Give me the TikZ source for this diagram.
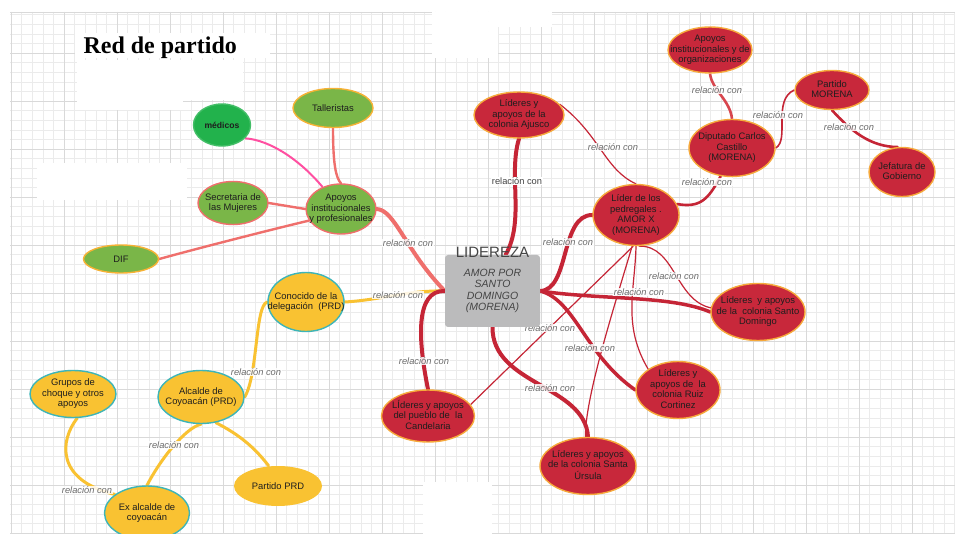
\documentclass[tikz,border=0pt]{standalone}
\usepackage{fontspec}
\setmainfont{Liberation Sans}
\newfontfamily\titleserif{Liberation Serif}
\usetikzlibrary{shapes.geometric, positioning}
\usepackage{xcolor}
\definecolor{morenared}{HTML}{C8283B}
\definecolor{rimorange}{HTML}{F6A93B}
\definecolor{linkred}{HTML}{C52536}
\definecolor{leafgreen}{HTML}{7AB648}
\definecolor{medgreen}{HTML}{22B24C}
\definecolor{salmon}{HTML}{EF6F6C}
\definecolor{hotpink}{HTML}{FF4FA1}
\definecolor{prdyellow}{HTML}{F9C232}
\definecolor{rimteal}{HTML}{3DB5B8}
\definecolor{boxgray}{HTML}{BBBBBC}
\definecolor{inkdark}{HTML}{1E1E1E}
\definecolor{inkgray}{HTML}{444444}
\definecolor{lblgray}{HTML}{6B6B6B}
\definecolor{gridminor}{HTML}{EBEBEB}
\definecolor{gridmajor}{HTML}{D9D9D9}
\pgfdeclarelayer{paper}
\pgfdeclarelayer{links}
\pgfsetlayers{paper,links,main}
\newcommand{\bubbletext}[1]{\makebox[0pt]{\smash{\raisebox{-0.27em}{\begin{tabular}{@{}c@{}}#1\end{tabular}}}}}

\begin{document}
\begin{tikzpicture}[x=1pt, y=-1pt,
    every node/.style={font=\fontsize{9.4}{10.5}\selectfont, text=inkdark},
    bubble/.style={ellipse, inner sep=0pt, line width=1.4pt},
    rednode/.style={bubble, fill=morenared, draw=rimorange},
    greennode/.style={bubble, fill=leafgreen},
    yellownode/.style={bubble, fill=prdyellow, draw=rimteal},
    rel/.style={font=\fontsize{9.3}{10}\selectfont\itshape, text=lblgray, fill=white, fill opacity=0.85, text opacity=1, inner sep=0.5pt},
    redlink/.style={draw=linkred, line width=4pt, line cap=round},
    thinlink/.style={draw=linkred, line width=1.2pt},
    salmonlink/.style={draw=salmon, line width=2.4pt, line cap=round},
    yellowlink/.style={draw=prdyellow, line width=3pt, line cap=round}]
  \useasboundingbox (0,0) rectangle (955,534);

  % squared paper
  \begin{pgfonlayer}{paper}
    \fill[white] (0,0) rectangle (955,534);
    \foreach \k in {0,...,89} \draw[gridminor, line width=0.5pt] ({11+10.6*\k},12) -- ({11+10.6*\k},534);
    \foreach \k in {1,...,55} \draw[gridminor, line width=0.5pt] (10,{5+9.6*\k}) -- (955,{5+9.6*\k});
    \foreach \k in {0,...,17} \draw[gridmajor, line width=0.8pt] ({11+53*\k},12) -- ({11+53*\k},534);
    \foreach \k in {1,...,11} \draw[gridmajor, line width=0.8pt] (10,{5+48*\k}) -- (955,{5+48*\k});
    \draw[gridmajor, line width=0.8pt] (10,12) -- (955,12);
    \fill[white] (75,33) rectangle (270,58);
    \fill[white] (77,60) rectangle (243,100);
    \fill[white] (77,100) rectangle (183,110);
    \fill[white] (37,163) rectangle (187,200);
    \fill[white] (432,12) rectangle (498,58);
    \fill[white] (498,0) rectangle (552,27);
    \fill[white] (423,482) rectangle (492,534);
  \end{pgfonlayer}

  \node[font=\titleserif\bfseries\fontsize{24}{26}\selectfont, text=black, anchor=base west] (title) at (80,54) {Red de partido};

  % centre
  \node[fill=boxgray, rounded corners=3pt, minimum width=95, minimum height=72, inner sep=0pt,
        font=\fontsize{10.5}{11.5}\selectfont\itshape, text=inkgray, align=center] (box) at (492.5,291)
        {AMOR POR\\SANTO\\DOMINGO\\(MORENA)};
  \node[font=\fontsize{15}{16}\selectfont, text=inkgray, inner sep=0pt, above=-2.5pt of box] (lidereza) {LIDEREZA};

  % green group
  \node[bubble, fill=medgreen, draw=medgreen!85!white, minimum width=57, minimum height=42,
        font=\fontsize{8.6}{10}\selectfont\bfseries] (medicos) at (222,125) {médicos};
  \node[greennode, draw=rimorange!90!yellow, minimum width=80, minimum height=39] (talleristas) at (333,108) {Talleristas};
  \node[greennode, draw=salmon, minimum width=70, minimum height=43] (secretaria) at (233,203) {\bubbletext{Secretaria de\\las Mujeres}};
  \node[greennode, draw=salmon, minimum width=70, minimum height=50] (apoyos) at (341,209) {\bubbletext{Apoyos\\institucionales\\y profesionales}};
  \node[greennode, draw=rimorange!90!yellow, minimum width=75, minimum height=28] (dif) at (121,259) {DIF};

  % yellow group
  \node[yellownode, minimum width=76, minimum height=59] (conocido) at (306,302) {\bubbletext{Conocido de la\\delegación~ (PRD)}};
  \node[yellownode, minimum width=86, minimum height=53] (alcalde) at (201,397) {\bubbletext{Alcalde de\\Coyoacán (PRD)}};
  \node[yellownode, minimum width=86, minimum height=47] (grupos) at (73,394) {\bubbletext{Grupos de\\choque y otros\\apoyos}};
  \node[bubble, fill=prdyellow, minimum width=88, minimum height=40] (partidoprd) at (278,486) {Partido PRD};
  \node[yellownode, minimum width=85, minimum height=54] (exalcalde) at (147,513) {\bubbletext{Ex alcalde de\\coyoacán}};

  % red group
  \node[rednode, minimum width=90, minimum height=46] (ajusco) at (519,115) {\bubbletext{Líderes y\\apoyos de la\\colonia Ajusco}};
  \node[rednode, minimum width=84, minimum height=46] (apoyosorg) at (710,50) {\bubbletext{Apoyos\\institucionales y de\\organizaciones}};
  \node[rednode, minimum width=74, minimum height=39] (partidomorena) at (832,90) {\bubbletext{Partido\\MORENA}};
  \node[rednode, minimum width=86, minimum height=57] (diputado) at (732,148) {\bubbletext{Diputado Carlos\\Castillo\\(MORENA)}};
  \node[rednode, minimum width=66, minimum height=49] (jefatura) at (902,172) {\bubbletext{Jefatura de\\Gobierno}};
  \node[rednode, minimum width=86, minimum height=61] (pedregales) at (636,215) {\bubbletext{Líder de los\\pedregales .\\AMOR X\\(MORENA)}};
  \node[rednode, minimum width=94, minimum height=57] (santodomingo) at (758,312) {\bubbletext{Líderes~ y apoyos\\de la~ colonia Santo\\Domingo}};
  \node[rednode, minimum width=84, minimum height=57] (ruiz) at (678,390) {\bubbletext{Líderes y\\apoyos de~ la\\colonia Ruiz\\Cortinez}};
  \node[rednode, minimum width=96, minimum height=57] (ursula) at (588,466) {\bubbletext{Líderes y apoyos\\de la colonia Santa\\Úrsula}};
  \node[rednode, minimum width=93, minimum height=52] (candelaria) at (428,416) {\bubbletext{LÍderes y apoyos\\del pueblo de~ la\\Candelaria}};

  \begin{pgfonlayer}{links}
    % green links
    \draw[draw=hotpink, line width=2pt] (medicos.-30) .. controls (270,140) and (300,160) .. (apoyos.130);
    \draw[salmonlink] (talleristas.south) .. controls (333,165) and (336,178) .. (apoyos.north);
    \draw[salmonlink] (secretaria.east) -- (apoyos.west);
    \draw[salmonlink] (dif.east) .. controls (210,245) and (290,225) .. (apoyos.200);
    \draw[salmonlink, line width=4pt] (apoyos.east) .. controls (395,210) and (405,250) .. (box.west)
      node[rel] at (408,243) {relación con};
    % yellow links
    \draw[yellowlink] (conocido.east) .. controls (380,300) and (410,290) .. (box.west)
      node[rel] at (398,295) {relación con};
    \draw[yellowlink] (alcalde.east) .. controls (258,375) and (255,305) .. (conocido.west)
      node[rel] at (256,372) {relación con};
    \draw[yellowlink] (alcalde.south) .. controls (185,428) and (160,460) .. (exalcalde.north)
      node[rel] at (174,445) {relación con};
    \draw[yellowlink] (alcalde.-60) .. controls (240,435) and (255,448) .. (partidoprd.115);
    \draw[yellowlink] (grupos.-80) .. controls (60,440) and (55,480) .. (exalcalde.150)
      node[rel] at (87,490) {relación con};
    % red links
    \draw[redlink] (box.70) .. controls (525,220) and (508,175) .. (ajusco.south)
      node[font=\fontsize{9.3}{10}\selectfont, text=inkgray, fill=white, inner sep=0.5pt] at (517,181) {relación con};
    \draw[thinlink] (ajusco.15) .. controls (600,135) and (605,170) .. (pedregales.north)
      node[rel] at (613,147) {relación con};
    \draw[redlink, line width=2.6pt] (pedregales.15) .. controls (700,208) and (708,200) .. (diputado.-112)
      node[rel] at (707,182) {relación con};
    \draw[draw=linkred!55!salmon, line width=2.6pt] (diputado.north) .. controls (730,100) and (712,90) .. (apoyosorg.south)
      node[rel] at (717,90) {relación con};
    \draw[thinlink, line width=1.6pt] (diputado.east) .. controls (790,140) and (772,100) .. (partidomorena.west)
      node[rel] at (778,115) {relación con};
    \draw[redlink, line width=2.6pt] (partidomorena.south) .. controls (850,130) and (870,147) .. (jefatura.100)
      node[rel] at (849,127) {relación con};
    \draw[redlink] (box.east) .. controls (570,290) and (560,215) .. (pedregales.west)
      node[rel] at (568,242) {relación con};
    \draw[thinlink] (pedregales.-85) .. controls (675,245) and (675,300) .. (santodomingo.175)
      node[rel] at (674,276) {relación con};
    \draw[thinlink] (pedregales.-90) .. controls (635,290) and (622,325) .. (ruiz.145);
    \draw[thinlink] (pedregales.-97) .. controls (610,320) and (585,400) .. (ursula.95);
    \draw[thinlink] (pedregales.-95) -- (candelaria.15)
      node[rel] at (550,328) {relación con};
    \draw[redlink, line width=3.5pt] (box.east) .. controls (600,300) and (670,295) .. (santodomingo.west)
      node[rel] at (639,292) {relación con};
    \draw[redlink, line width=3.5pt] (box.east) .. controls (575,300) and (585,355) .. (ruiz.west)
      node[rel] at (590,348) {relación con};
    \draw[redlink] (box.south) .. controls (492,385) and (585,385) .. (ursula.north)
      node[rel] at (550,388) {relación con};
    \draw[redlink] (box.west) .. controls (415,290) and (418,340) .. (candelaria.north)
      node[rel] at (424,361) {relación con};
  \end{pgfonlayer}
\end{tikzpicture}
\end{document}
